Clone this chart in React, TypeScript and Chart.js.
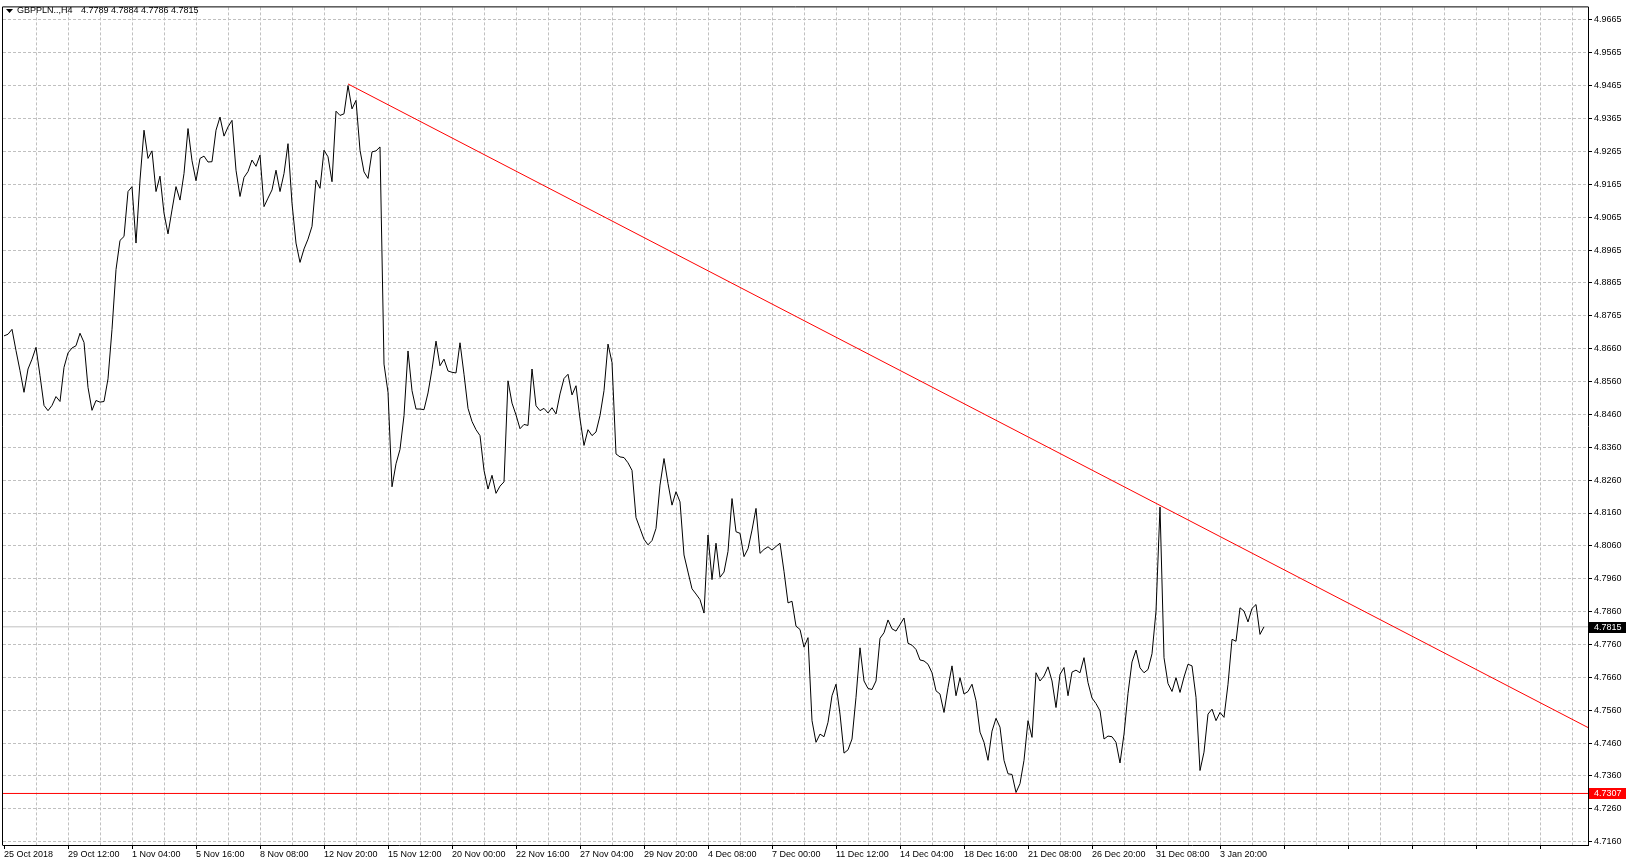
import React, { useEffect, useRef } from "react";
import { Chart, registerables } from "chart.js";

Chart.register(...registerables);

// ---------- data ----------
const symbolLabel = "GBPPLN..,H4";
const ohlcLabel = "4.7789 4.7884 4.7786 4.7815";

const closePrices: number[] = [
  4.8702, 4.8707, 4.8722, 4.8657, 4.8596, 4.8530, 4.8601, 4.8631, 4.8667, 4.8581,
  4.8490, 4.8474, 4.8490, 4.8517, 4.8502, 4.8606, 4.8650, 4.8665, 4.8672, 4.8710,
  4.8682, 4.8545, 4.8475, 4.8505, 4.8500, 4.8502, 4.8571, 4.8722, 4.8904, 4.8993,
  4.9005, 4.9142, 4.9157, 4.8985, 4.9177, 4.9329, 4.9243, 4.9266, 4.9142, 4.9189,
  4.9076, 4.9013, 4.9086, 4.9157, 4.9116, 4.9197, 4.9334, 4.9236, 4.9175, 4.9243,
  4.9250, 4.9232, 4.9233, 4.9329, 4.9369, 4.9311, 4.9339, 4.9359, 4.9207, 4.9127,
  4.9185, 4.9203, 4.9238, 4.9219, 4.9253, 4.9096, 4.9122, 4.9147, 4.9207, 4.9142,
  4.9197, 4.9288, 4.9106, 4.8985, 4.8926, 4.8967, 4.8997, 4.9036, 4.9177, 4.9152,
  4.9268, 4.9248, 4.9172, 4.9387, 4.9374, 4.9379, 4.9465, 4.9394, 4.9420, 4.9268,
  4.9202, 4.9182, 4.9263, 4.9266, 4.9278, 4.8616, 4.8530, 4.8242, 4.8312, 4.8356,
  4.8459, 4.8656, 4.8535, 4.8479, 4.8479, 4.8477, 4.8528, 4.8600, 4.8686, 4.8611,
  4.8631, 4.8595, 4.8591, 4.8589, 4.8681, 4.8585, 4.8481, 4.8441, 4.8416, 4.8398,
  4.8292, 4.8235, 4.8277, 4.8222, 4.8244, 4.8257, 4.8565, 4.8497, 4.8461, 4.8419,
  4.8432, 4.8429, 4.8601, 4.8489, 4.8474, 4.8481, 4.8467, 4.8483, 4.8464, 4.8525,
  4.8572, 4.8585, 4.8522, 4.8550, 4.8449, 4.8368, 4.8416, 4.8398, 4.8409, 4.8459,
  4.8535, 4.8677, 4.8621, 4.8342, 4.8333, 4.8331, 4.8315, 4.8292, 4.8148, 4.8115,
  4.8082, 4.8065, 4.8078, 4.8115, 4.8247, 4.8328, 4.8252, 4.8186, 4.8227, 4.8196,
  4.8034, 4.7982, 4.7931, 4.7915, 4.7898, 4.7857, 4.8095, 4.7959, 4.8070, 4.7966,
  4.7982, 4.8045, 4.8206, 4.8105, 4.8100, 4.8029, 4.8053, 4.8110, 4.8176, 4.8039,
  4.8051, 4.8059, 4.8049, 4.8060, 4.8070, 4.7984, 4.7888, 4.7893, 4.7817, 4.7807,
  4.7753, 4.7782, 4.7529, 4.7463, 4.7488, 4.7480, 4.7524, 4.7605, 4.7640, 4.7549,
  4.7430, 4.7440, 4.7473, 4.7600, 4.7751, 4.7650, 4.7627, 4.7624, 4.7650, 4.7780,
  4.7797, 4.7836, 4.7809, 4.7802, 4.7822, 4.7842, 4.7765, 4.7759, 4.7746, 4.7714,
  4.7711, 4.7701, 4.7675, 4.7620, 4.7610, 4.7554, 4.7630, 4.7696, 4.7605, 4.7660,
  4.7610, 4.7618, 4.7640, 4.7590, 4.7494, 4.7463, 4.7408, 4.7497, 4.7536, 4.7509,
  4.7408, 4.7367, 4.7365, 4.7310, 4.7337, 4.7408, 4.7529, 4.7478, 4.7675, 4.7650,
  4.7665, 4.7693, 4.7650, 4.7569, 4.7670, 4.7691, 4.7605, 4.7677, 4.7683, 4.7675,
  4.7721, 4.7645, 4.7598, 4.7581, 4.7559, 4.7473, 4.7482, 4.7480, 4.7463, 4.7400,
  4.7488, 4.7612, 4.7708, 4.7744, 4.7690, 4.7675, 4.7685, 4.7733, 4.7863, 4.8180,
  4.7721, 4.7642, 4.7618, 4.7660, 4.7615, 4.7662, 4.7701, 4.7696, 4.7600, 4.7377,
  4.7433, 4.7549, 4.7564, 4.7529, 4.7554, 4.7539, 4.7640, 4.7777, 4.7771, 4.7873,
  4.7863, 4.7830, 4.7871, 4.7883, 4.7792, 4.7815,
];

const xTickLabels: string[] = [
  "25 Oct 2018", "29 Oct 12:00", "1 Nov 04:00", "5 Nov 16:00", "8 Nov 08:00",
  "12 Nov 20:00", "15 Nov 12:00", "20 Nov 00:00", "22 Nov 16:00", "27 Nov 04:00",
  "29 Nov 20:00", "4 Dec 08:00", "7 Dec 00:00", "11 Dec 12:00", "14 Dec 04:00",
  "18 Dec 16:00", "21 Dec 08:00", "26 Dec 20:00", "31 Dec 08:00", "3 Jan 20:00",
];
const barsPerLabel = 16;
const barsPerGridLine = 8;
const lastVisibleBar = 396;

const yTickLabels: string[] = [
  "4.9665", "4.9565", "4.9465", "4.9365", "4.9265", "4.9165", "4.9065", "4.8965",
  "4.8865", "4.8765", "4.8660", "4.8560", "4.8460", "4.8360", "4.8260", "4.8160",
  "4.8060", "4.7960", "4.7860", "4.7760", "4.7660", "4.7560", "4.7460", "4.7360",
  "4.7260", "4.7160",
];
const yTickFirst = 4.9665;
const yTickStep = 0.01002;
const yMin = 4.71499;
const yMax = 4.97034;

const trendLineBars: number[] = [86, 396];
const trendLinePrices: number[] = [4.947, 4.7508];
const supportPrice = 4.7307;
const currentPrice = 4.7815;

// ---------- styling ----------
const FONT = "'Liberation Sans', Arial, sans-serif";
const GRID = "#c0c0c0";

export default function App() {
  const canvasRef = useRef<HTMLCanvasElement | null>(null);

  useEffect(() => {
    const canvas = canvasRef.current;
    if (!canvas) return;

    const overlay = {
      id: "mtOverlay",
      afterDraw(chart: any) {
        const { ctx, chartArea } = chart;
        const ys = chart.scales.y;
        ctx.save();
        // frame (left + top)
        ctx.strokeStyle = "#000";
        ctx.lineWidth = 1;
        ctx.beginPath();
        ctx.moveTo(chartArea.left - 0.5, chartArea.bottom + 0.5);
        ctx.lineTo(chartArea.left - 0.5, chartArea.top - 0.5);
        ctx.lineTo(chartArea.right + 0.5, chartArea.top - 0.5);
        ctx.stroke();

        // price tags
        const tag = (value: number, bg: string) => {
          const py = Math.round(ys.getPixelForValue(value));
          ctx.fillStyle = bg;
          ctx.fillRect(chartArea.right + 1, py - 5, 37, 11);
          ctx.fillStyle = "#fff";
          ctx.font = `9px ${FONT}`;
          ctx.textBaseline = "middle";
          ctx.textAlign = "left";
          ctx.fillText(value.toFixed(4), chartArea.right + 6, py + 0.5);
        };
        tag(currentPrice, "#000000");
        tag(supportPrice, "#ff0000");

        // header
        ctx.fillStyle = "#000";
        ctx.beginPath();
        ctx.moveTo(6, 9);
        ctx.lineTo(13, 9);
        ctx.lineTo(9.5, 13);
        ctx.closePath();
        ctx.fill();
        ctx.font = `9px ${FONT}`;
        ctx.textBaseline = "middle";
        ctx.textAlign = "left";
        ctx.fillText(symbolLabel, 17, 11);
        ctx.fillText(ohlcLabel, 81, 11);
        ctx.restore();
      },
    };

    const chart = new Chart(canvas, {
      type: "line",
      data: {
        datasets: [
          {
            label: "trend",
            data: trendLineBars.map((b, i) => ({ x: b, y: trendLinePrices[i] })),
            borderColor: "#ff0000",
            borderWidth: 1,
            pointRadius: 0,
            tension: 0,
            order: 0,
          },
          {
            label: "support",
            data: [
              { x: -0.25, y: supportPrice },
              { x: lastVisibleBar, y: supportPrice },
            ],
            borderColor: "#ff0000",
            borderWidth: 1,
            pointRadius: 0,
            order: 0,
          },
          {
            label: "GBPPLN",
            data: closePrices.map((v, i) => ({ x: i, y: v })),
            borderColor: "#000000",
            borderWidth: 1,
            pointRadius: 0,
            tension: 0,
            order: 1,
          },
          {
            label: "bid",
            data: [
              { x: -0.25, y: currentPrice },
              { x: lastVisibleBar, y: currentPrice },
            ],
            borderColor: GRID,
            borderWidth: 1,
            pointRadius: 0,
            order: 2,
          },
        ],
      },
      options: {
        responsive: false,
        animation: false,
        events: [],
        layout: { padding: { left: 3, top: 3, right: 0, bottom: 0 } },
        plugins: {
          legend: { display: false },
          tooltip: { enabled: false },
          title: { display: false },
        },
        scales: {
          x: {
            type: "linear",
            min: -0.25,
            max: lastVisibleBar,
            afterBuildTicks: (scale: any) => {
              const t = [];
              for (let v = 0; v <= lastVisibleBar; v += barsPerGridLine) t.push({ value: v });
              scale.ticks = t;
            },
            afterFit: (scale: any) => {
              scale.height = 21;
            },
            grid: {
              color: (c: any) => (c.tick && c.tick.value === 0 ? "rgba(0,0,0,0)" : GRID),
              lineWidth: 1,
              drawTicks: true,
              tickLength: 4,
              tickColor: (c: any) =>
                c.tick && c.tick.value % barsPerLabel === 0 ? "#000" : "rgba(0,0,0,0)",
            },
            border: { display: true, color: "#000", width: 1, dash: [3, 2] },
            ticks: {
              autoSkip: false,
              maxRotation: 0,
              minRotation: 0,
              align: "start",
              padding: 0,
              color: "#000",
              font: { family: FONT, size: 9 },
              callback: (value: any) => {
                const v = Number(value);
                return v % barsPerLabel === 0 ? xTickLabels[v / barsPerLabel] ?? "" : "";
              },
            },
          },
          y: {
            type: "linear",
            position: "right",
            min: yMin,
            max: yMax,
            afterBuildTicks: (scale: any) => {
              scale.ticks = yTickLabels.map((_, j) => ({ value: yTickFirst - j * yTickStep }));
            },
            afterFit: (scale: any) => {
              scale.width = 40;
            },
            grid: {
              color: GRID,
              lineWidth: 1,
              drawTicks: true,
              tickLength: 4,
              tickColor: "#000",
            },
            border: { display: true, color: "#000", width: 1, dash: [3, 2] },
            ticks: {
              autoSkip: false,
              padding: 2,
              color: "#000",
              font: { family: FONT, size: 9 },
              callback: (_v: any, idx: number) => yTickLabels[idx] ?? "",
            },
          },
        },
      } as any,
      plugins: [overlay],
    });

    return () => chart.destroy();
  }, []);

  return (
    <div
      style={{
        position: "fixed",
        left: 0,
        top: 0,
        width: 1628,
        height: 866,
        background: "#ffffff",
      }}
    >
      <canvas ref={canvasRef} width={1628} height={866} style={{ display: "block" }} />
    </div>
  );
}
